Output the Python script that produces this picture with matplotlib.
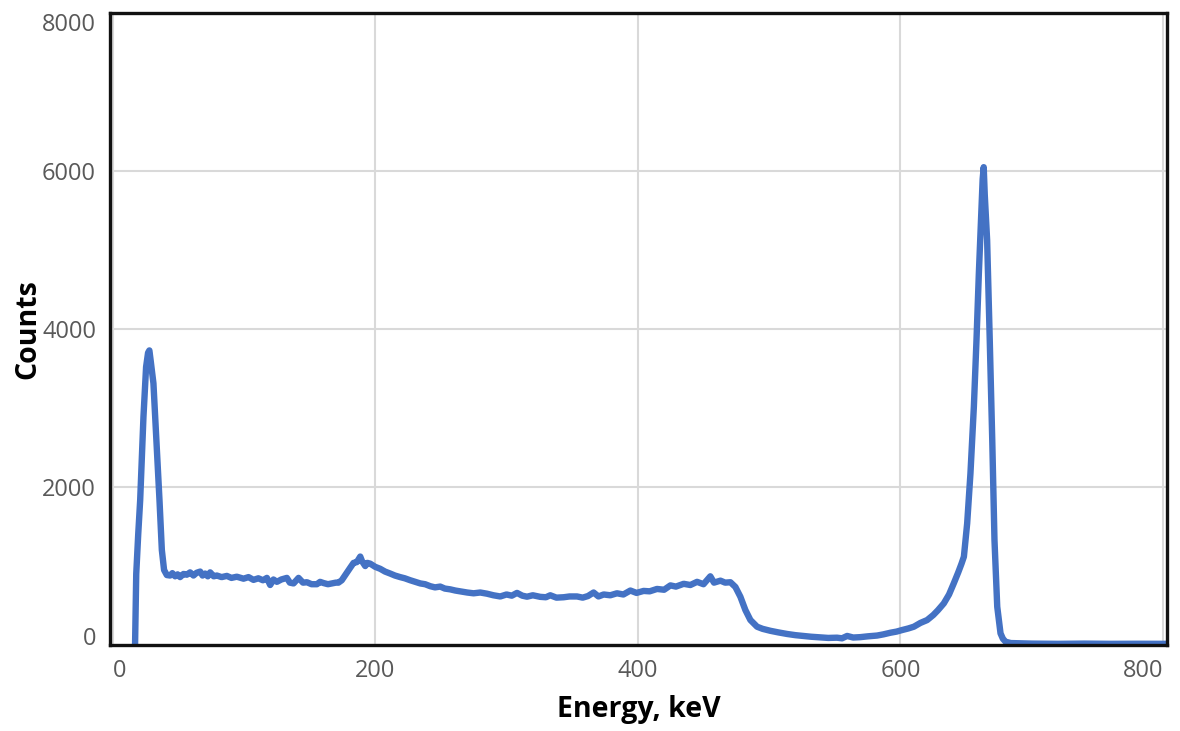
import matplotlib.pyplot as plt

# gamma spectrum
energy_kev = [17.1, 18.0, 19.5, 21.0, 23.5, 25.5, 27.0, 28.0, 29.0, 31.1, 33.7, 35.7, 37.5, 39.2, 41.3,
              43.8, 45.5, 47.6, 49.5, 51.4, 54.0, 56.5, 59.0, 61.6, 64.0, 66.7, 68.5, 70.5, 72.5, 74.3,
              77.0, 79.4, 83.0, 87.0, 90.5, 94.6, 99.7, 103.5, 107.3, 111.0, 114.5, 117.5, 120.0, 122.5,
              125.1, 128.5, 132.7, 135.0, 137.8, 141.6, 145.0, 148.0, 151.5, 155.6, 158.0, 160.6, 164.0,
              167.0, 170.0, 172.0, 174.5, 176.5, 178.4, 181.0, 183.5, 186.0, 188.6, 190.0, 192.4, 194.0,
              196.2, 200.0, 203.8, 207.5, 211.4, 215.0, 219.0, 222.5, 226.7, 230.5, 234.3, 238.0, 241.9,
              245.5, 249.5, 253.0, 257.1, 261.0, 264.8, 270.0, 274.9, 280.0, 285.1, 290.0, 295.2, 300.0,
              304.0, 308.0, 312.0, 315.6, 320.0, 325.7, 330.0, 333.3, 338.0, 343.5, 348.0, 353.7, 358.0,
              362.0, 366.3, 370.0, 374.0, 379.0, 384.1, 389.0, 394.3, 399.0, 404.4, 409.0, 414.6, 420.0,
              424.8, 429.0, 434.9, 440.0, 445.1, 450.0, 455.2, 458.0, 462.9, 466.5, 470.5, 474.3, 478.1,
              481.9, 485.7, 490.8, 495.0, 501.0, 507.0, 513.7, 520.0, 526.3, 532.0, 539.0, 545.0, 551.7,
              555.5, 559.4, 564.0, 569.5, 575.0, 582.2, 587.0, 592.4, 597.0, 601.3, 606.0, 610.2, 615.2,
              620.3, 625.0, 628.5, 633.0, 637.0, 640.6, 644.0, 646.5, 648.3, 650.8, 653.3, 655.9, 657.9,
              659.7, 661.7, 662.6, 663.4, 664.2, 666.0, 668.0, 669.9, 671.6, 673.7, 676.2, 678.0, 680.0,
              684.0, 700.0, 720.0, 740.0, 760.0, 780.0, 803.0]
counts = [0, 900, 1400, 1835, 2890, 3520, 3700, 3730, 3600, 3313, 2469, 1836, 1203, 950, 886,
          880, 910, 870, 895, 860, 900, 890, 920, 880, 915, 930, 880, 905, 870, 920,
          870, 880, 860, 875, 850, 865, 840, 860, 825, 845, 820, 850, 760, 830,
          800, 830, 850, 790, 780, 850, 790, 795, 770, 770, 800, 785, 770,
          780, 790, 790, 820, 870, 920, 980, 1040, 1050, 1120, 1060, 1000, 1040,
          1030, 990, 965, 930, 905, 880, 860, 845, 820, 800, 780, 770, 745,
          730, 740, 715, 705, 690, 680, 665, 655, 665, 650, 630, 615, 640,
          625, 660, 625, 612, 630, 610, 605, 630, 600, 605, 615, 615, 600,
          620, 665, 615, 640, 630, 655, 640, 690, 660, 685, 680, 710, 700,
          755, 740, 775, 760, 800, 770, 870, 790, 815, 790, 795, 735, 611,
          443, 317, 232, 205, 180, 160, 140, 125, 114, 105, 97, 90, 93,
          85, 115, 95, 100, 110, 120, 135, 156, 170, 190, 210, 232, 280,
          316, 380, 440, 527, 640, 781, 920, 1030, 1118, 1540, 2173, 3017, 3861,
          4706, 5549, 5900, 6050, 5700, 5127, 3861, 2595, 1329, 485, 148, 80, 42,
          25, 18, 15, 18, 15, 16, 15]

x_ticks = [0, 200, 400, 600, 800]
y_ticks = [0, 2000, 4000, 6000, 8000]

fig = plt.figure(figsize=(11.8, 7.31), dpi=100)
ax = fig.add_axes([0.0932, 0.1176, 0.8958, 0.8644])

ax.plot(energy_kev, counts, color="#4472C4", linewidth=4.6, solid_joinstyle="round", solid_capstyle="round")

ax.set_xlim(-2, 803)
ax.set_ylim(0, 8000)
ax.set_xticks(x_ticks)
ax.set_yticks(y_ticks)
ax.grid(True, color="#d9d9d9", linewidth=1.5)
ax.set_axisbelow(True)
for s in ax.spines.values():
    s.set_linewidth(2.4)
    s.set_color("#111111")

ax.tick_params(length=0, labelsize=17, labelcolor="#595959")
ax.tick_params(axis="x", pad=10)
ax.tick_params(axis="y", pad=10)
for lab in ax.get_xticklabels() + ax.get_yticklabels():
    lab.set_fontfamily("Open Sans")
xl = ax.get_xticklabels()
xl[0].set_ha("left")
xl[-1].set_ha("right")
yl = ax.get_yticklabels()
yl[0].set_va("baseline")
yl[-1].set_va("top")

ax.set_xlabel("Energy, keV", fontsize=20.5, fontweight="bold", family="Open Sans", labelpad=9)
ax.set_ylabel("Counts", fontsize=20.5, fontweight="bold", family="Open Sans", labelpad=0)

fig.savefig("out.png", dpi=100)
